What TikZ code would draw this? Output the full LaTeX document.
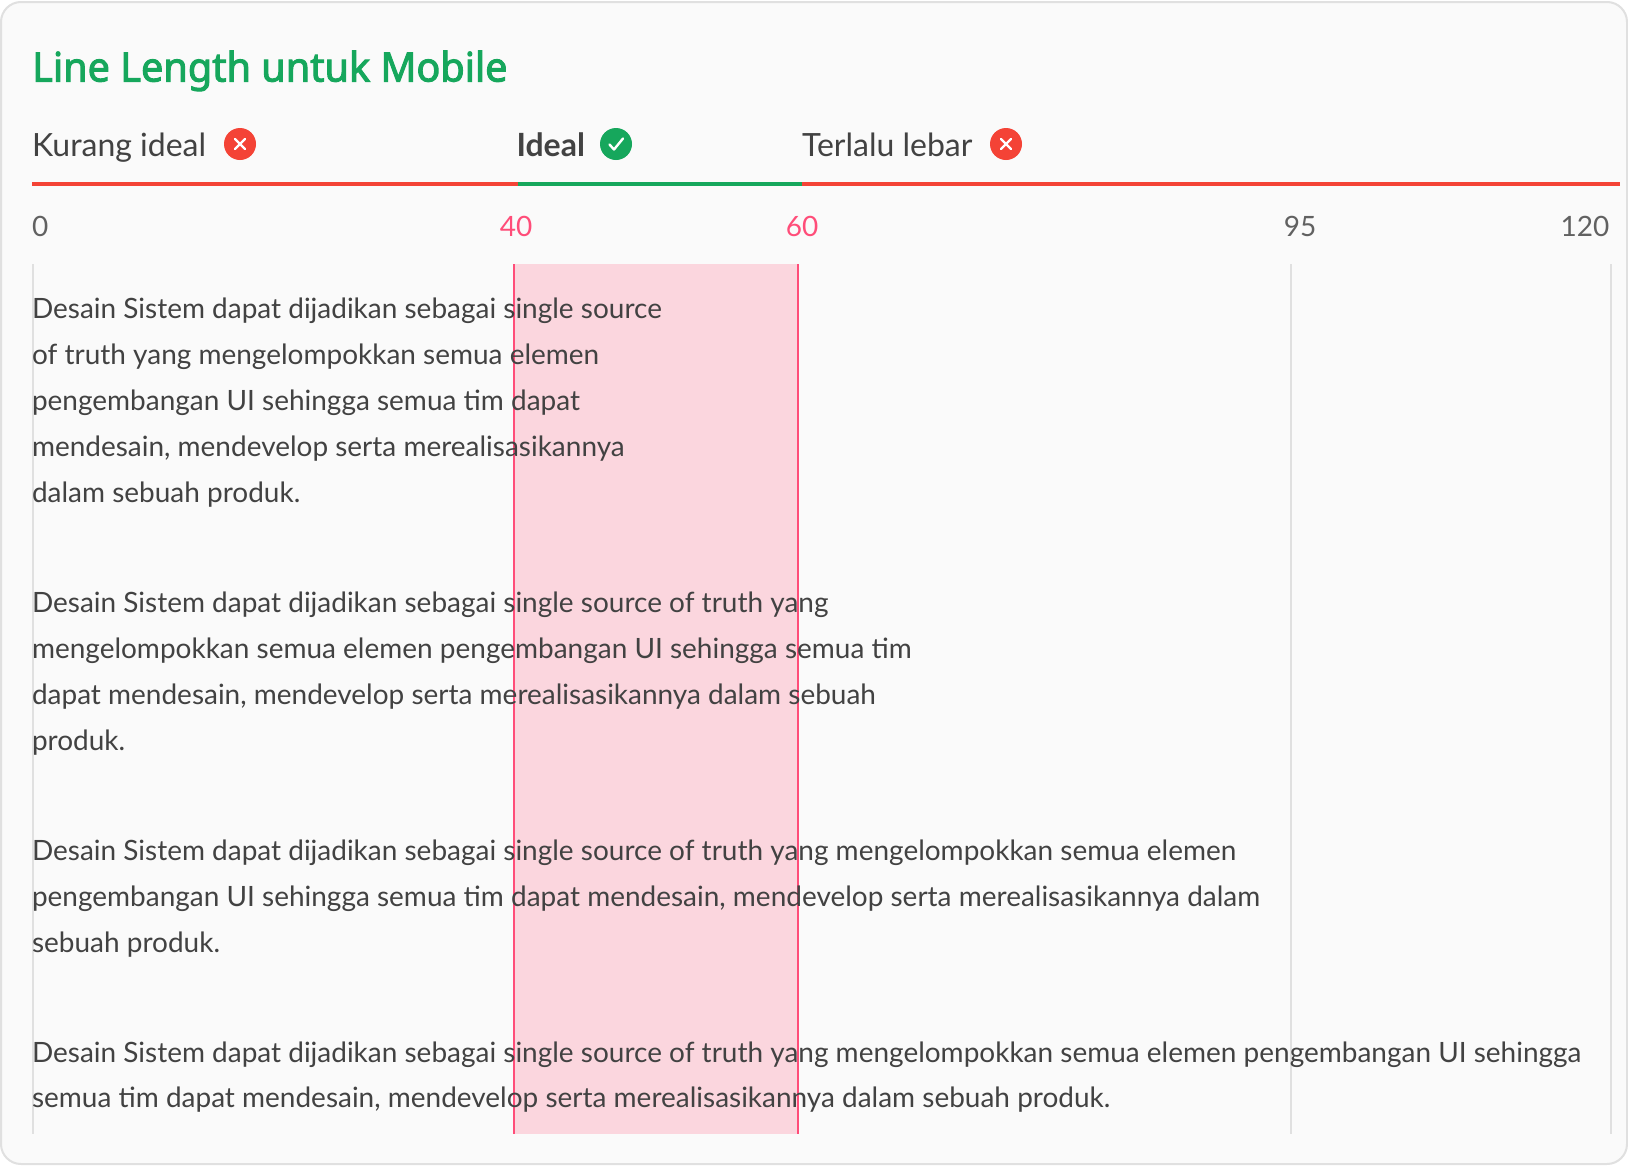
\documentclass[tikz,border=0pt]{standalone}
\usepackage{fontspec}
\setmainfont{Lato}
\newfontfamily\titlefont[FakeStretch=0.978,FakeBold=2.5]{Noto Sans}
\definecolor{cardbg}{HTML}{FAFAFA}
\definecolor{cardline}{HTML}{E0E0E0}
\definecolor{okgreen}{HTML}{16A75C}
\definecolor{badred}{HTML}{F44336}
\definecolor{inktext}{HTML}{424242}
\definecolor{numgray}{HTML}{616161}
\definecolor{pinkline}{HTML}{FF4D79}
\definecolor{pinkband}{HTML}{FBD6DE}
\begin{document}
\begin{tikzpicture}[x=1pt,y=-1pt,
  body/.style={anchor=base west,inner sep=0pt,outer sep=0pt,text=inktext,font=\fontsize{27.975}{34}\selectfont},
  tab/.style={anchor=base west,inner sep=0pt,outer sep=0pt,text=inktext,font=\fontsize{32}{38}\selectfont},
  num/.style={anchor=base,inner sep=0pt,outer sep=0pt,text=numgray,font=\fontsize{28}{34}\selectfont},
  pnum/.style={num,text=pinkline},
  guide/.style={draw=cardline,line width=2pt},
  pguide/.style={draw=pinkline,line width=2pt},
  bar/.style={line width=4pt},
  badge/.style={circle,minimum size=32pt,inner sep=0pt},
  mark line/.style={draw=white,line width=2.4pt,line cap=round,line join=round}]
\useasboundingbox (0,0) rectangle (1628,1165);
\fill[white] (0,0) rectangle (1628,1165);
\draw[draw=cardline,fill=cardbg,line width=2pt,rounded corners=20pt] (1,2) rectangle (1627,1164);

% band and guides
\fill[pinkband] (513.5,264) rectangle (798,1134);
\foreach \gx in {33,1291,1611} \draw[guide] (\gx,264) -- (\gx,1134);
\foreach \gx in {513.5,798} \draw[pguide] (\gx,264) -- (\gx,1134);

% title
\node[anchor=base west,inner sep=0pt,text=okgreen,font=\fontsize{40.5}{50}\selectfont\titlefont] (title) at (32,81.5) {Line Length untuk Mobile};

% tabs
\node[tab] (t1) at (32,156) {Kurang ideal};
\node[tab,font=\fontsize{32}{38}\selectfont\bfseries] (t2) at (516.5,156) {Ideal};
\node[tab] (t3) at (802,156) {Terlalu lebar};
\node[badge,fill=badred] (b1) at (240,144) {};
\node[badge,fill=okgreen] (b2) at (616,144) {};
\node[badge,fill=badred] (b3) at (1006,144) {};
\draw[mark line] (235,139) -- (245,149) (245,139) -- (235,149);
\draw[mark line] (1001,139) -- (1011,149) (1011,139) -- (1001,149);
\draw[mark line] (609.5,144.5) -- (614,149.5) -- (623,138.5);

% bars
\coordinate (r0) at (32,184);
\coordinate (g0) at (518,184);
\coordinate (g1) at (802,184);
\coordinate (r1) at (1620,184);
\draw[bar,badred] (r0) -- (g0);
\draw[bar,okgreen] (g0) -- (g1);
\draw[bar,badred] (g1) -- (r1);

% numbers
\node[num,anchor=base west] (n0) at (32,236) {0};
\node[pnum] (n40) at (516,236) {40};
\node[pnum] (n60) at (802,236) {60};
\node[num] (n95) at (1300,236) {95};
\node[num] (n120) at (1585,236) {120};

% paragraphs
\node[body] (a1) at (32,318) {Desain Sistem dapat dijadikan sebagai single source};
\node[body] (a2) at (32,364) {of truth yang mengelompokkan semua elemen};
\node[body] (a3) at (32,410) {pengembangan UI sehingga semua tim dapat};
\node[body] (a4) at (32,456) {mendesain, mendevelop serta merealisasikannya};
\node[body] (a5) at (32,502) {dalam sebuah produk.};

\node[body] (b1t) at (32,612) {Desain Sistem dapat dijadikan sebagai single source of truth yang};
\node[body] (b2t) at (32,658) {mengelompokkan semua elemen pengembangan UI sehingga semua tim};
\node[body] (b3t) at (32,704) {dapat mendesain, mendevelop serta merealisasikannya dalam sebuah};
\node[body] (b4t) at (32,750) {produk.};

\node[body] (c1) at (32,860) {Desain Sistem dapat dijadikan sebagai single source of truth yang mengelompokkan semua elemen};
\node[body] (c2) at (32,906) {pengembangan UI sehingga semua tim dapat mendesain, mendevelop serta merealisasikannya dalam};
\node[body] (c3) at (32,952) {sebuah produk.};

\node[body] (d1) at (32,1062) {Desain Sistem dapat dijadikan sebagai single source of truth yang mengelompokkan semua elemen pengembangan UI sehingga};
\node[body] (d2) at (32,1107.5) {semua tim dapat mendesain, mendevelop serta merealisasikannya dalam sebuah produk.};
\end{tikzpicture}
\end{document}
